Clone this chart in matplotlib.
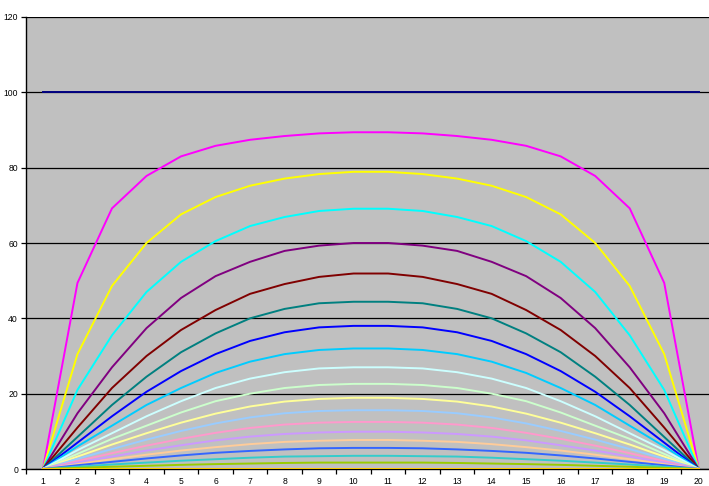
import matplotlib
matplotlib.use("Agg")
import matplotlib.pyplot as plt
from matplotlib.ticker import FixedLocator

categories = list(range(1, 21))

# left half (x = 1..10) of each series; curves are mirror-symmetric about 10.5
half_values = {
    "row0":  [100, 100, 100, 100, 100, 100, 100, 100, 100, 100],
    "row1":  [0, 49.4, 69.2, 77.8, 83.0, 85.8, 87.4, 88.4, 89.1, 89.4],
    "row2":  [0, 30.5, 48.6, 60.0, 67.6, 72.2, 75.2, 77.1, 78.3, 78.9],
    "row3":  [0, 21.0, 35.5, 47.0, 55.0, 60.5, 64.5, 66.9, 68.5, 69.1],
    "row4":  [0, 14.8, 27.0, 37.4, 45.4, 51.2, 55.0, 57.9, 59.3, 60.0],
    "row5":  [0, 11.0, 21.5, 30.0, 36.9, 42.2, 46.5, 49.1, 51.0, 51.9],
    "row6":  [0, 8.5, 17.0, 24.5, 31.0, 36.0, 40.0, 42.5, 44.0, 44.4],
    "row7":  [0, 7.0, 14.0, 20.5, 26.0, 30.5, 34.0, 36.3, 37.6, 38.0],
    "row8":  [0, 6.0, 11.5, 17.0, 21.5, 25.5, 28.5, 30.5, 31.6, 32.0],
    "row9":  [0, 5.0, 9.5, 14.0, 18.0, 21.5, 24.0, 25.7, 26.7, 27.0],
    "row10": [0, 4.0, 8.0, 11.5, 15.0, 18.0, 20.0, 21.5, 22.3, 22.6],
    "row11": [0, 3.3, 6.5, 9.5, 12.3, 14.7, 16.6, 17.9, 18.6, 18.9],
    "row12": [0, 2.7, 5.3, 7.8, 10.1, 12.1, 13.7, 14.8, 15.4, 15.6],
    "row13": [0, 2.1, 4.2, 6.2, 8.0, 9.6, 10.9, 11.8, 12.3, 12.5],
    "row14": [0, 1.7, 3.3, 4.9, 6.3, 7.6, 8.6, 9.3, 9.7, 9.9],
    "row15": [0, 1.3, 2.6, 3.8, 4.9, 5.8, 6.6, 7.2, 7.5, 7.7],
    "row16": [0, 1.0, 1.9, 2.8, 3.6, 4.3, 4.8, 5.2, 5.5, 5.6],
    "row17": [0, 0.6, 1.2, 1.7, 2.2, 2.6, 3.0, 3.3, 3.4, 3.5],
    "row18": [0, 0.3, 0.6, 0.85, 1.1, 1.3, 1.45, 1.6, 1.7, 1.7],
    "row19": [0, 0, 0, 0, 0, 0, 0, 0, 0, 0],
}

colors = ["#000080", "#FF00FF", "#FFFF00", "#00FFFF", "#800080", "#800000",
          "#008080", "#0000FF", "#00CCFF", "#CCFFFF", "#CCFFCC", "#FFFF99",
          "#99CCFF", "#FF99CC", "#CC99FF", "#FFCC99", "#3366FF", "#33CCCC",
          "#99CC00", "#FFCC00"]

y_ticks = [0, 20, 40, 60, 80, 100, 120]

plt.rcParams["font.family"] = ["Liberation Sans", "DejaVu Sans"]

W, H = 709, 486
fig = plt.figure(figsize=(W / 100, H / 100), dpi=100)
fig.patch.set_facecolor("white")

left_px, right_px, top_px, bottom_px = 25.7, 716.0, 17.0, 469.0
ax = fig.add_axes([left_px / W, 1 - bottom_px / H,
                   (right_px - left_px) / W, (bottom_px - top_px) / H])
ax.set_facecolor("#C0C0C0")

for name, col in zip(half_values, colors):
    half = half_values[name]
    full = half + half[::-1]
    ax.plot(categories, full, color=col, linewidth=1.4, solid_joinstyle="miter", zorder=3)

ax.set_xlim(0.5, 20.5)
ax.set_ylim(0, 120)
ax.set_yticks(y_ticks)
ax.set_yticklabels([str(v) for v in y_ticks])
ax.yaxis.grid(True, color="black", linewidth=0.9, zorder=1)
ax.set_axisbelow(True)

ax.set_xticks(categories)
ax.set_xticklabels([str(c) for c in categories])
ax.xaxis.set_minor_locator(FixedLocator([c + 0.5 for c in range(0, 21)]))
ax.tick_params(axis="x", which="major", length=0, labelsize=6.2, pad=6)
ax.tick_params(axis="x", which="minor", length=3.5, width=0.9, color="black")
ax.tick_params(axis="y", which="major", length=3.5, width=0.9, labelsize=6.2, pad=2)

for s in ["top", "right"]:
    ax.spines[s].set_visible(False)
ax.spines["left"].set_color("black")
ax.spines["left"].set_linewidth(1.0)
ax.spines["bottom"].set_color("black")
ax.spines["bottom"].set_linewidth(1.0)

fig.savefig("out.png", dpi=100)
